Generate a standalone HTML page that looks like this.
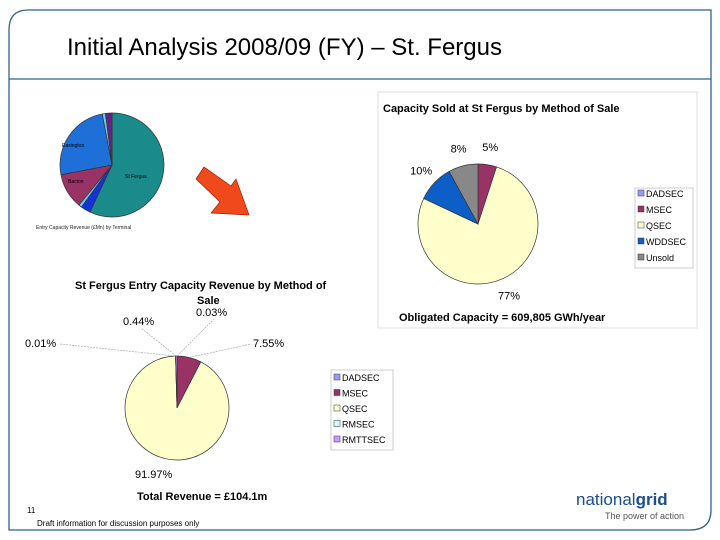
<!DOCTYPE html>
<html><head><meta charset="utf-8"><style>
body{margin:0;width:720px;height:540px;background:#fff;overflow:hidden;font-family:"Liberation Sans",sans-serif}
svg{position:absolute;left:0;top:0}
</style></head><body>
<svg width="720" height="540" font-family="Liberation Sans, sans-serif">
<path d="M9,30 Q9,10 28,10 L711,10 L711,510 Q711,530 690,530 L9,530 Z" fill="none" stroke="#2f6388" stroke-width="1.3"/>
<line x1="9" y1="79" x2="711" y2="79" stroke="#2f6388" stroke-width="1.3"/>
<text x="67" y="55" font-size="24" textLength="435" fill="#000">Initial Analysis 2008/09 (FY) – St. Fergus</text>
<rect x="378" y="92" width="319" height="236" fill="#fff" stroke="#ddd"/>
<rect x="635" y="188" width="58" height="80" fill="#fff" stroke="#ccc"/>
<rect x="331" y="370" width="62" height="80" fill="#fff" stroke="#ccc"/>
<g id="small"></g>
<text x="36" y="229" font-size="5" fill="#222">Entry Capacity Revenue (£Mn) by Terminal</text>
<polygon points="196,179 204,167 231,186 236,179 249,215 211,213 220,202" fill="#f04a1c" stroke="#a02000" stroke-width="0.7"/>
<text x="383" y="112" font-size="11" font-weight="bold">Capacity Sold at St Fergus by Method of Sale</text>
<g id="right"></g>
<text x="399" y="321" font-size="11" font-weight="bold">Obligated Capacity = 609,805 GWh/year</text>
<text x="75" y="289" font-size="11" font-weight="bold">St Fergus Entry Capacity Revenue by Method of</text>
<text x="197" y="304" font-size="11" font-weight="bold">Sale</text>
<g id="bottom"></g>
<text x="137" y="500" font-size="11" font-weight="bold">Total Revenue = £104.1m</text>
<text x="27" y="513" font-size="8">11</text>
<text x="37" y="526" font-size="8">Draft information for discussion purposes only</text>
<text x="576" y="505" font-size="17" fill="#1a4e8c">national<tspan font-weight="bold">grid</tspan></text>
<text x="605" y="519" font-size="9" fill="#555">The power of action</text>
</svg>
<script>
const smallCats=["St Fergus","Other A","Other B","Bacton","Easington","Other C","Other D"];
const smallVals=[57,3,1,11,25,1,2];
const smallCols=["#1a8a8a","#1133dd","#66ccee","#993366","#1f6fd8","#66ccee","#662288"];
const capCats=["DADSEC","MSEC","QSEC","WDDSEC","Unsold"];
const capVals=[0,5,77,10,8];
const capCols=["#9999ff","#993366","#ffffcc","#0d5fc8","#888888"];
const revCats=["DADSEC","MSEC","QSEC","RMSEC","RMTTSEC"];
const revVals=[0.03,7.55,91.97,0.01,0.44];
const revCols=["#9999ff","#993366","#ffffcc","#ccffff","#cc99ff"];
const NS="http://www.w3.org/2000/svg";
function pt(cx,cy,r,a){return [cx+r*Math.sin(a),cy-r*Math.cos(a)];}
function pie(gid,cx,cy,r,vals,cols,cats,stroke){
 const g=document.getElementById(gid);const tot=vals.reduce((a,b)=>a+b,0);let a0=0;const mids=[];
 vals.forEach((v,i)=>{const a1=a0+v/tot*2*Math.PI;mids.push((a0+a1)/2);
  if(v>0){const p=document.createElementNS(NS,"path");const s=pt(cx,cy,r,a0),e=pt(cx,cy,r,a1);
  p.setAttribute("d",`M${cx},${cy}L${s[0]},${s[1]}A${r},${r} 0 ${a1-a0>Math.PI?1:0} 1 ${e[0]},${e[1]}Z`);
  p.setAttribute("fill",cols[i]);p.setAttribute("stroke",stroke);p.setAttribute("stroke-width","0.7");
  
  
  g.appendChild(p);}a0=a1;});return mids;}
function txt(gid,x,y,s,size,anchor){const t=document.createElementNS(NS,"text");t.setAttribute("x",x);t.setAttribute("y",y);t.setAttribute("font-size",size);if(anchor)t.setAttribute("text-anchor",anchor);t.textContent=s;
 
 
 document.getElementById(gid).appendChild(t);}
pie("small",112,165,52,smallVals,smallCols,smallCats,"#333");
txt("small",62,147,"Easington",5);txt("small",125,178,"St Fergus",5);txt("small",68,183,"Bacton",5);
const cm=pie("right",478,224,60,capVals,capCols,capCats,"#333");
capVals.forEach((v,i)=>{if(v>0){const p=pt(478,224,78,cm[i]);txt("right",p[0],p[1]+4,v+"%",11,"middle");}});
capCats.forEach((c,i)=>{const y=196+i*16;const r=document.createElementNS(NS,"rect");r.setAttribute("x",638);r.setAttribute("y",y-6);r.setAttribute("width",6);r.setAttribute("height",6);r.setAttribute("fill",capCols[i]);r.setAttribute("stroke","#333");r.setAttribute("stroke-width","0.5");
 
 
 document.getElementById("right").appendChild(r);txt("right",646,y+1,c,9);});
const rm=pie("bottom",177,408,52,revVals,revCols,revCats,"#333");
const revLabelPos=[[196,316],[253,347],[135,478],[25,347],[123,325]];
revVals.forEach((v,i)=>{const [lx,ly]=revLabelPos[i];const e=pt(177,408,52,rm[i]);
 if(i!==2){const l=document.createElementNS(NS,"line");l.setAttribute("x1",e[0]);l.setAttribute("y1",e[1]);l.setAttribute("x2",lx+(i===1?-2:(i===3?35:18)));l.setAttribute("y2",ly+(i===0||i===4?3:-3));l.setAttribute("stroke","#aaa");l.setAttribute("stroke-dasharray","2,1");l.setAttribute("stroke-width","0.7");
 
 
 document.getElementById("bottom").appendChild(l);}
 txt("bottom",lx,ly,v.toFixed(2)+"%",11,"start");});
revCats.forEach((c,i)=>{const y=380+i*15.5;const r=document.createElementNS(NS,"rect");r.setAttribute("x",334);r.setAttribute("y",y-6);r.setAttribute("width",6);r.setAttribute("height",6);r.setAttribute("fill",revCols[i]);r.setAttribute("stroke","#333");r.setAttribute("stroke-width","0.5");
 
 
 document.getElementById("bottom").appendChild(r);txt("bottom",342,y+1,c,9);});
</script>
</body></html>
